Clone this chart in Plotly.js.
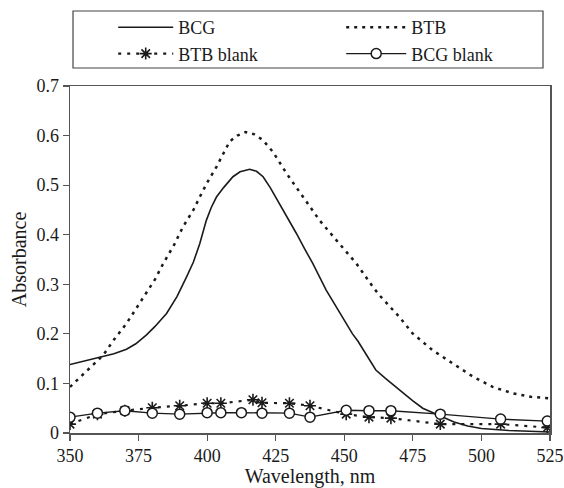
<!DOCTYPE html>
<html>
<head>
<meta charset="utf-8">
<script src="https://cdn.plot.ly/plotly-3.0.1.min.js"></script>
<style>html,body{margin:0;padding:0;background:#fff;}#chart{width:564px;height:488px;}</style>
</head>
<body>
<div id="chart"></div>
<script>
// BCG (solid)
const bcgX = [350, 355, 362, 366, 370.6, 374, 377.9, 381, 385.2, 389, 392.5, 395, 397.3, 399.7, 401.5, 403.4, 406, 409.4, 412, 415.5, 418, 420.4, 423, 426.4, 429.5, 432.5, 435.5, 438.5, 443.4, 447, 450, 453, 455, 457, 459, 461.5, 465, 470, 475, 478.6, 485, 490, 495, 500, 510, 525];
const bcgY = [0.138, 0.145, 0.154, 0.160, 0.169, 0.180, 0.198, 0.215, 0.241, 0.275, 0.315, 0.345, 0.382, 0.429, 0.455, 0.476, 0.495, 0.517, 0.527, 0.532, 0.528, 0.517, 0.495, 0.463, 0.433, 0.403, 0.372, 0.342, 0.288, 0.255, 0.225, 0.200, 0.185, 0.168, 0.150, 0.127, 0.110, 0.087, 0.065, 0.050, 0.034, 0.022, 0.014, 0.009, 0.005, 0.002];
// BTB (dotted)
const btbX = [350, 356, 362.1, 366, 370.6, 374, 377.9, 381, 384, 388, 391.2, 395, 397.3, 400, 403.4, 406, 408.2, 411, 414, 417, 420.3, 424, 428.9, 435, 441, 447.1, 454.4, 460.4, 462.8, 470.1, 474.9, 482.2, 489.5, 496.8, 504.1, 511.4, 518, 525];
const btbY = [0.093, 0.125, 0.157, 0.188, 0.221, 0.250, 0.282, 0.310, 0.342, 0.380, 0.416, 0.450, 0.476, 0.505, 0.537, 0.565, 0.588, 0.600, 0.607, 0.603, 0.591, 0.567, 0.524, 0.476, 0.429, 0.389, 0.342, 0.295, 0.278, 0.234, 0.201, 0.167, 0.140, 0.114, 0.093, 0.080, 0.073, 0.070];
// BTB blank (dashed with asterisks)
const btbBlankX = [350, 360, 370, 380, 390, 400, 405, 416.7, 420, 430, 437.5, 450.7, 459, 467, 485, 507, 524];
const btbBlankY = [0.018, 0.038, 0.045, 0.051, 0.055, 0.060, 0.060, 0.067, 0.061, 0.060, 0.055, 0.038, 0.032, 0.030, 0.018, 0.018, 0.011];
// BCG blank (solid with open circles)
const bcgBlankX = [350, 360, 370, 380, 390, 400, 405, 412.5, 420, 430, 437.5, 450.7, 459, 467, 485, 507, 524];
const bcgBlankY = [0.032, 0.040, 0.045, 0.040, 0.038, 0.041, 0.041, 0.041, 0.040, 0.040, 0.032, 0.046, 0.045, 0.045, 0.038, 0.028, 0.024];

const xTicks = [350, 375, 400, 425, 450, 475, 500, 525];
const yTicks = [0, 0.1, 0.2, 0.3, 0.4, 0.5, 0.6, 0.7];

const FONT = 'Liberation Serif, Times New Roman, serif';
const INK = '#1a1a1a';

const traces = [
  {x: bcgX, y: bcgY, name: 'BCG', mode: 'lines', legend: 'legend', line: {color: INK, width: 1.6}},
  {x: btbX, y: btbY, name: 'BTB', mode: 'lines', legend: 'legend2', line: {color: INK, width: 2.5, dash: '3px,5px'}},
  {x: btbBlankX, y: btbBlankY, name: 'BTB blank', mode: 'lines+markers', legend: 'legend',
   line: {color: INK, width: 2.2, dash: '3px,6px'},
   marker: {symbol: 'asterisk-open', size: 10, color: INK, line: {color: INK, width: 1.6}}},
  {x: bcgBlankX, y: bcgBlankY, name: 'BCG blank', mode: 'lines+markers', legend: 'legend2',
   line: {color: INK, width: 1.4},
   marker: {symbol: 'circle', size: 10, color: '#fff', line: {color: INK, width: 1.5}}}
];

const legendCommon = {
  orientation: 'v', xanchor: 'left', yanchor: 'top', yref: 'container', y: 1 - 9/488,
  bgcolor: 'rgba(0,0,0,0)', borderwidth: 0, traceorder: 'normal',
  font: {family: FONT, size: 18, color: INK}
};

const layout = {
  width: 564, height: 488,
  margin: {l: 70, r: 14, t: 86, b: 55},
  paper_bgcolor: '#fff', plot_bgcolor: '#fff',
  font: {family: FONT, color: INK, size: 18},
  showlegend: true,
  legend: Object.assign({}, legendCommon, {x: 0.09, itemwidth: 55}),
  legend2: Object.assign({}, legendCommon, {x: 0.565, itemwidth: 60}),
  shapes: [{type: 'rect', xref: 'paper', yref: 'paper', x0: 3/480, x1: 473/480, y0: (433-68)/347, y1: (433-11)/347,
            line: {color: '#444', width: 1.2}, fillcolor: 'rgba(0,0,0,0)'}],
  xaxis: {
    range: [350, 525], tickvals: xTicks, ticktext: xTicks.map(String),
    showgrid: false, zeroline: false, showline: true, mirror: true, ticklabeloverflow: 'allow',
    linecolor: '#555', linewidth: 1.5, ticks: 'outside', ticklen: 6, tickcolor: '#555', tickwidth: 1.2,
    tickfont: {family: FONT, size: 18, color: INK},
    title: {text: 'Wavelength, nm', font: {family: FONT, size: 20, color: INK}, standoff: 4}
  },
  yaxis: {
    range: [0, 0.7], tickvals: yTicks, ticktext: yTicks.map(v => v === 0 ? '0' : v.toFixed(1)),
    showgrid: false, zeroline: false, showline: true, mirror: true,
    linecolor: '#555', linewidth: 1.5, ticks: 'outside', ticklen: 6, tickcolor: '#555', tickwidth: 1.2,
    tickfont: {family: FONT, size: 18, color: INK},
    title: {text: 'Absorbance', font: {family: FONT, size: 20, color: INK}, standoff: 4}
  }
};

Plotly.newPlot('chart', traces, layout, {displayModeBar: false, staticPlot: true});
</script>
</body>
</html>
